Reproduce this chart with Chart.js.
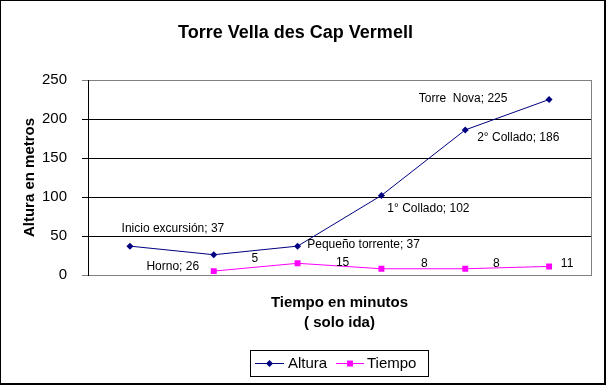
<!DOCTYPE html>
<html>
<head>
<meta charset="utf-8">
<script src="https://cdn.jsdelivr.net/npm/chart.js@4"></script>
<style>
  html, body { margin: 0; padding: 0; background: #ffffff; }
  canvas { display: block; }
</style>
</head>
<body>
<canvas id="c" width="606" height="385"></canvas>
<script>
// ---- data ----
const categories = ['Inicio excursión', 'Horno', 'Pequeño torrente', '1° Collado', '2° Collado', 'Torre  Nova'];
const altura = [37, 26, 37, 102, 186, 225];
const tiempo = [null, 5, 15, 8, 8, 11];
const yTicks = [0, 50, 100, 150, 200, 250];
const titleText = 'Torre Vella des Cap Vermell';
const yTitle = 'Altura en metros';
const xTitle = ['Tiempo en minutos', '( solo ida)'];
const seriesNames = ['Altura', 'Tiempo'];

// ---- style (label offsets relative to each point, in px) ----
const alturaLabelOffsets = [[43, -17], [-41, 12], [66, -1], [47, 13], [53, 8], [-86, -1]];
const tiempoLabelOffsets = [null, [41, -12], [45, -1], [43, -5], [31, -5], [18, -3]];
const FONT = "'Liberation Sans', Arial, sans-serif";
const NAVY = '#000080';
const MAGENTA = '#ff00ff';

const pointLabels = {
  id: 'pointLabels',
  afterDatasetsDraw(chart) {
    const ctx = chart.ctx;
    ctx.save();
    ctx.font = '12px ' + FONT;
    ctx.fillStyle = '#000';
    ctx.textAlign = 'center';
    ctx.textBaseline = 'middle';
    chart.data.datasets.forEach((ds, di) => {
      const meta = chart.getDatasetMeta(di);
      meta.data.forEach((pt, i) => {
        const v = ds.data[i];
        if (v === null || v === undefined) return;
        const off = (di === 0 ? alturaLabelOffsets : tiempoLabelOffsets)[i] || [0, -10];
        const txt = di === 0 ? (categories[i] + '; ' + v) : String(v);
        ctx.fillText(txt, pt.x + off[0], pt.y + off[1]);
      });
    });
    ctx.restore();
  }
};

const framePlugin = {
  id: 'frame',
  beforeDraw(chart) {
    const ctx = chart.ctx;
    ctx.save();
    ctx.fillStyle = '#ffffff';
    ctx.fillRect(0, 0, chart.width, chart.height);
    ctx.restore();
  },
  afterDraw(chart) {
    const ctx = chart.ctx;
    const a = chart.chartArea;
    ctx.save();
    // right border of plot area (grey)
    ctx.strokeStyle = '#808080';
    ctx.lineWidth = 1;
    ctx.beginPath();
    ctx.moveTo(Math.round(a.right) + 0.5, a.top);
    ctx.lineTo(Math.round(a.right) + 0.5, a.bottom);
    ctx.stroke();
    // outer frame
    ctx.fillStyle = '#000';
    ctx.fillRect(0, 0, 606, 1);
    ctx.fillRect(0, 0, 1, 385);
    ctx.fillRect(604, 0, 2, 385);
    ctx.fillRect(0, 383, 606, 2);
    // legend
    const bx = 250, by = 350, bw = 178, bh = 26;
    ctx.strokeStyle = '#000';
    ctx.lineWidth = 1;
    ctx.strokeRect(bx + 0.5, by + 0.5, bw, bh);
    const cy = by + 13.5;
    const items = [
      { x0: 255, x1: 284, color: NAVY, style: 'rectRot', r: 3.5, tx: 288 },
      { x0: 336, x1: 364, color: MAGENTA, style: 'rect', r: 4.2, tx: 367 }
    ];
    ctx.font = '15px ' + FONT;
    ctx.textBaseline = 'middle';
    ctx.textAlign = 'left';
    items.forEach((it, i) => {
      ctx.strokeStyle = it.color;
      ctx.beginPath();
      ctx.moveTo(it.x0, cy);
      ctx.lineTo(it.x1, cy);
      ctx.stroke();
      ctx.fillStyle = it.color;
      Chart.helpers.drawPoint(ctx, { pointStyle: it.style, radius: it.r, borderWidth: 0, rotation: 0 }, (it.x0 + it.x1) / 2, cy);
      ctx.fillStyle = '#000';
      ctx.fillText(seriesNames[i], it.tx, cy + 0.5);
    });
    ctx.restore();
  }
};

new Chart(document.getElementById('c'), {
  type: 'line',
  data: {
    labels: categories,
    datasets: [
      {
        label: seriesNames[0],
        data: altura,
        borderColor: NAVY,
        backgroundColor: NAVY,
        borderWidth: 1,
        pointStyle: 'rectRot',
        pointRadius: 3.5,
        pointBorderWidth: 0,
        tension: 0
      },
      {
        label: seriesNames[1],
        data: tiempo,
        borderColor: MAGENTA,
        backgroundColor: MAGENTA,
        borderWidth: 1,
        pointStyle: 'rect',
        pointRadius: 4.2,
        pointBorderWidth: 0,
        tension: 0
      }
    ]
  },
  options: {
    responsive: false,
    animation: false,
    devicePixelRatio: 1,
    layout: { padding: { left: 0, right: 15, top: 0, bottom: 0 } },
    plugins: {
      legend: { display: false },
      tooltip: { enabled: false },
      title: {
        display: true,
        text: titleText,
        color: '#000',
        font: { family: FONT, size: 18, weight: 'bold', lineHeight: 1.2 },
        padding: { top: 22, bottom: 36.4 }
      }
    },
    scales: {
      x: {
        type: 'category',
        offset: true,
        grid: { display: false },
        border: { display: true, color: '#808080', width: 1 },
        ticks: { display: false },
        title: {
          display: true,
          text: xTitle,
          color: '#000',
          font: { family: FONT, size: 15, weight: 'bold', lineHeight: '20px' },
          padding: { top: 0, bottom: 52 }
        },
        afterFit(s) { s.height = 110; }
      },
      y: {
        min: 0,
        max: 250,
        afterBuildTicks(s) { s.ticks = yTicks.map(v => ({ value: v })); },
        grid: {
          color: (c) => (c.tick && (c.tick.value === 0 || c.tick.value === 250)) ? '#808080' : '#000000',
          lineWidth: 1,
          tickLength: 6,
          drawTicks: true
        },
        border: { display: true, color: '#000', width: 1 },
        ticks: {
          color: '#000',
          padding: 15,
          font: { family: FONT, size: 15 }
        },
        title: {
          display: true,
          text: yTitle,
          color: '#000',
          font: { family: FONT, size: 15, weight: 'bold', lineHeight: '18px' },
          padding: { top: 21, bottom: 0 }
        },
        afterFit(s) { s.width = 88; }
      }
    }
  },
  plugins: [framePlugin, pointLabels]
});
</script>
</body>
</html>
